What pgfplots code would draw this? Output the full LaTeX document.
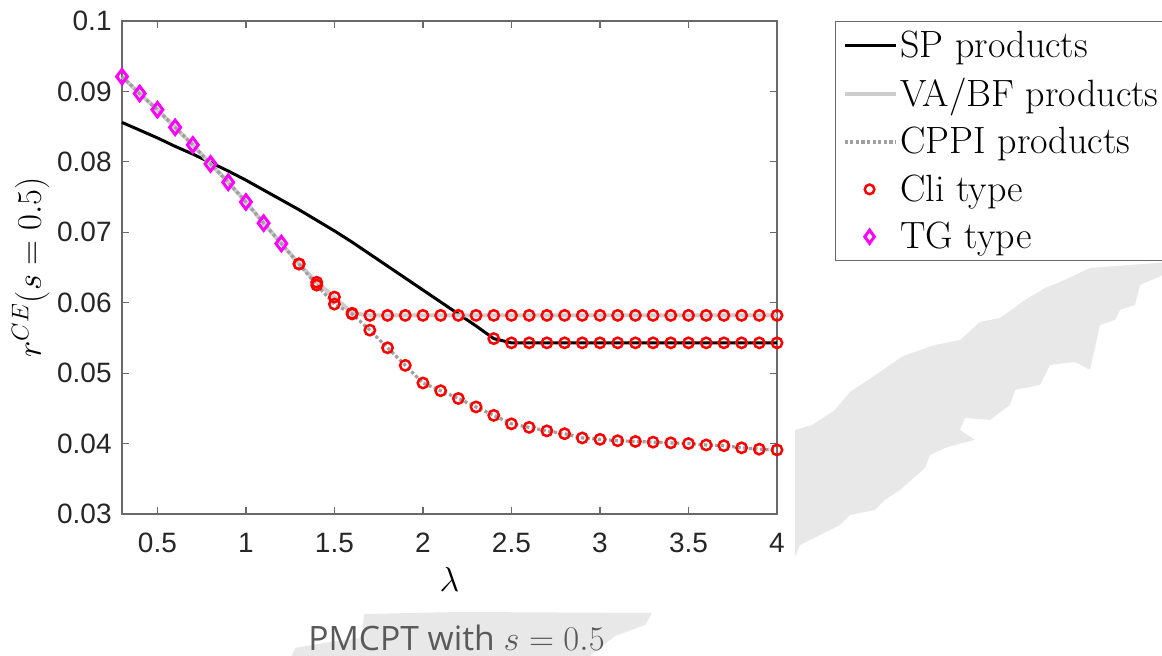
\documentclass[border=0pt]{standalone}
\usepackage{pgfplots}
\pgfplotsset{compat=1.18}
\usepackage{fontspec}
\newfontfamily\tickfont{Liberation Sans}
\newfontfamily\capfont{Open Sans}
\definecolor{wm}{RGB}{232,232,232}
\definecolor{vagray}{RGB}{205,205,205}
\definecolor{cpgray}{RGB}{160,160,160}
\definecolor{axgray}{RGB}{105,105,105}
\definecolor{ticktxt}{RGB}{38,38,38}
\definecolor{capgray}{RGB}{90,90,90}
\definecolor{mag}{RGB}{255,0,255}
\definecolor{cred}{RGB}{255,0,0}

\pgfplotstableread{
x y
0.3 0.0856
0.4 0.0845
0.5 0.0834
0.6 0.0822
0.7 0.0811
0.8 0.0799
0.9 0.0787
1.0 0.0774
1.1 0.0760
1.2 0.0746
1.3 0.0732
1.4 0.0717
1.5 0.0702
1.6 0.0686
1.7 0.0669
1.8 0.0652
1.9 0.0635
2.0 0.0618
2.1 0.0601
2.2 0.0584
2.3 0.0567
2.4 0.0549
2.5 0.0543
2.6 0.0543
2.7 0.0543
2.8 0.0543
2.9 0.0543
3.0 0.0543
3.1 0.0543
3.2 0.0543
3.3 0.0543
3.4 0.0543
3.5 0.0543
3.6 0.0543
3.7 0.0543
3.8 0.0543
3.9 0.0543
4.0 0.0543
}\SPdata

\pgfplotstableread{
x y
0.3 0.0921
0.4 0.0897
0.5 0.0874
0.6 0.0849
0.7 0.0824
0.8 0.0797
0.9 0.0771
1.0 0.0743
1.1 0.0713
1.2 0.0684
1.3 0.0655
1.4 0.0629
1.5 0.0608
1.6 0.0585
1.7 0.0582
1.8 0.0582
1.9 0.0582
2.0 0.0582
2.1 0.0582
2.2 0.0582
2.3 0.0582
2.4 0.0582
2.5 0.0582
2.6 0.0582
2.7 0.0582
2.8 0.0582
2.9 0.0582
3.0 0.0582
3.1 0.0582
3.2 0.0582
3.3 0.0582
3.4 0.0582
3.5 0.0582
3.6 0.0582
3.7 0.0582
3.8 0.0582
3.9 0.0582
4.0 0.0582
}\VAdata

\pgfplotstableread{
x y
0.3 0.0921
0.4 0.0897
0.5 0.0874
0.6 0.0849
0.7 0.0824
0.8 0.0797
0.9 0.0771
1.0 0.0743
1.1 0.0713
1.2 0.0684
1.3 0.0655
1.4 0.0625
1.5 0.0598
1.6 0.0584
1.7 0.0561
1.8 0.0536
1.9 0.0511
2.0 0.0486
2.1 0.0475
2.2 0.0464
2.3 0.0452
2.4 0.0440
2.5 0.0428
2.6 0.0423
2.7 0.0418
2.8 0.0414
2.9 0.0408
3.0 0.0406
3.1 0.0404
3.2 0.0403
3.3 0.0402
3.4 0.0401
3.5 0.0400
3.6 0.0398
3.7 0.0397
3.8 0.0394
3.9 0.0392
4.0 0.0391
}\CPdata

\pgfplotstableread{
x y
1.3 0.0655
1.4 0.0629
1.5 0.0608
1.6 0.0585
1.7 0.0582
1.8 0.0582
1.9 0.0582
2.0 0.0582
2.1 0.0582
2.2 0.0582
2.3 0.0582
2.4 0.0582
2.5 0.0582
2.6 0.0582
2.7 0.0582
2.8 0.0582
2.9 0.0582
3.0 0.0582
3.1 0.0582
3.2 0.0582
3.3 0.0582
3.4 0.0582
3.5 0.0582
3.6 0.0582
3.7 0.0582
3.8 0.0582
3.9 0.0582
4.0 0.0582
1.3 0.0655
1.4 0.0625
1.5 0.0598
1.6 0.0584
1.7 0.0561
1.8 0.0536
1.9 0.0511
2.0 0.0486
2.1 0.0475
2.2 0.0464
2.3 0.0452
2.4 0.0440
2.5 0.0428
2.6 0.0423
2.7 0.0418
2.8 0.0414
2.9 0.0408
3.0 0.0406
3.1 0.0404
3.2 0.0403
3.3 0.0402
3.4 0.0401
3.5 0.0400
3.6 0.0398
3.7 0.0397
3.8 0.0394
3.9 0.0392
4.0 0.0391
2.4 0.0549
2.5 0.0543
2.6 0.0543
2.7 0.0543
2.8 0.0543
2.9 0.0543
3.0 0.0543
3.1 0.0543
3.2 0.0543
3.3 0.0543
3.4 0.0543
3.5 0.0543
3.6 0.0543
3.7 0.0543
3.8 0.0543
3.9 0.0543
4.0 0.0543
}\Clidata

\pgfplotstableread{
x y
0.3 0.0921
0.4 0.0897
0.5 0.0874
0.6 0.0849
0.7 0.0824
0.8 0.0797
0.9 0.0771
1.0 0.0743
1.1 0.0713
1.2 0.0684
}\TGdata

\begin{document}
\begin{tikzpicture}
\begin{scope}[x=0.5pt,y=-0.5pt,shift={(0pt,328pt)}]
% background watermark shapes
\fill[wm] (795,430) -- (812,425) -- (835,410) -- (850,392) -- (880,372) -- (903,356) -- (935,345) -- (960,340) -- (980,322) -- (1000,318) -- (1025,300) -- (1045,288) -- (1060,282) -- (1090,268) -- (1170,262)
  -- (1170,272) -- (1140,285) -- (1135,305) -- (1120,310) -- (1115,320) -- (1100,325) -- (1090,370) -- (1075,362) -- (1050,365) -- (1040,385) -- (1015,390) -- (1010,405) -- (990,420) -- (965,418) -- (960,430) -- (975,440) -- (955,445) -- (945,448) -- (930,455) -- (925,468) -- (900,490)
  -- (885,500) -- (875,510) -- (850,515) -- (840,525) -- (820,535) -- (800,545) -- (795,557) -- cycle;
\fill[wm] (290,660) -- (295,648) -- (330,642) -- (362,638) -- (364,614) -- (460,612) -- (652,613) -- (645,625) -- (615,636) -- (585,660) -- cycle;
\end{scope}

\begin{axis}[
  at={(61pt,71pt)}, anchor=south west,
  scale only axis, width=327.5pt, height=246.5pt,
  xmin=0.3, xmax=4, ymin=0.03, ymax=0.1,
  xtick={0.5,1,1.5,2,2.5,3,3.5,4},
  ytick={0.03,0.04,0.05,0.06,0.07,0.08,0.09,0.1},
  axis line style={axgray, line width=0.7pt},
  tick style={axgray, line width=0.6pt},
  major tick length=3.5pt,
  tick align=inside,
  /pgf/number format/assume math mode=true,
  yticklabel style={/pgf/number format/fixed, /pgf/number format/precision=2},
  xticklabel style={/pgf/number format/fixed},
  tick label style={font=\tickfont\fontsize{14}{16}\selectfont, text=ticktxt, inner sep=0pt},
  yticklabel style={xshift=-5pt},
  xticklabel style={anchor=north, yshift=-9.5pt},
  xlabel={$\lambda$},
  ylabel={$r^{CE}(s=0.5)$},
  xlabel style={font=\fontsize{17}{20}\selectfont, at={(axis description cs:0.5,-0.1582)}, anchor=base},
  ylabel style={font=\fontsize{18}{22}\selectfont, at={(axis description cs:-0.1237,0.5)}, anchor=base, rotate=0},
  legend style={at={(rel axis cs:1.0885,1.0)}, anchor=north west, draw=axgray, line width=0.6pt,
    font=\fontsize{19}{22}\selectfont, inner xsep=3.5pt, inner ysep=3pt, row sep=5.9pt,
    nodes={inner sep=1.5pt}},
  legend cell align=left,
  clip=false,
]
\addplot[black, line width=1.5pt,
  legend image code/.code={\draw[black,line width=1.7pt] (0pt,0pt) -- (25.5pt,0pt);}] table[x=x,y=y] {\SPdata};
\addlegendentry{SP products}
\addplot[vagray, line width=2pt,
  legend image code/.code={\draw[vagray,line width=2pt] (0pt,0pt) -- (25.5pt,0pt);}] table[x=x,y=y] {\VAdata};
\addlegendentry{VA/BF products\hspace{12pt}}
\addplot[cpgray, line width=1.6pt, dash pattern=on 1.6pt off 1.2pt,
  legend image code/.code={\draw[cpgray,line width=1.6pt, dash pattern=on 1.6pt off 1.2pt] (0pt,0pt) -- (25.5pt,0pt);}] table[x=x,y=y] {\CPdata};
\addlegendentry{CPPI products}
\addplot[only marks, mark=o, mark size=2.6pt, cred, line width=1.25pt,
  legend image code/.code={\draw[cred,line width=1.25pt] (12.5pt,0pt) circle (2.4pt);}] table[x=x,y=y] {\Clidata};
\addlegendentry{Cli type}
\addplot[only marks, mark=diamond, mark size=3.6pt, mag, line width=1.5pt,
  legend image code/.code={\draw[mag,line width=1.5pt] (12.5pt,3.3pt) -- (14.9pt,0pt) -- (12.5pt,-3.3pt) -- (10.1pt,0pt) -- cycle;}] table[x=x,y=y] {\TGdata};
\addlegendentry{TG type}
\end{axis}

\begin{scope}[x=0.5pt,y=-0.5pt,shift={(0pt,328pt)}]
\node[anchor=base, inner sep=0pt, text=capgray, font=\capfont\fontsize{16.8}{19}\selectfont] at (456.5,650.5) {PMCPT with $s=0.5$};
\end{scope}
\pgfresetboundingbox
\path[use as bounding box] (0pt,0pt) rectangle (581pt,328pt);
\end{tikzpicture}
\end{document}
